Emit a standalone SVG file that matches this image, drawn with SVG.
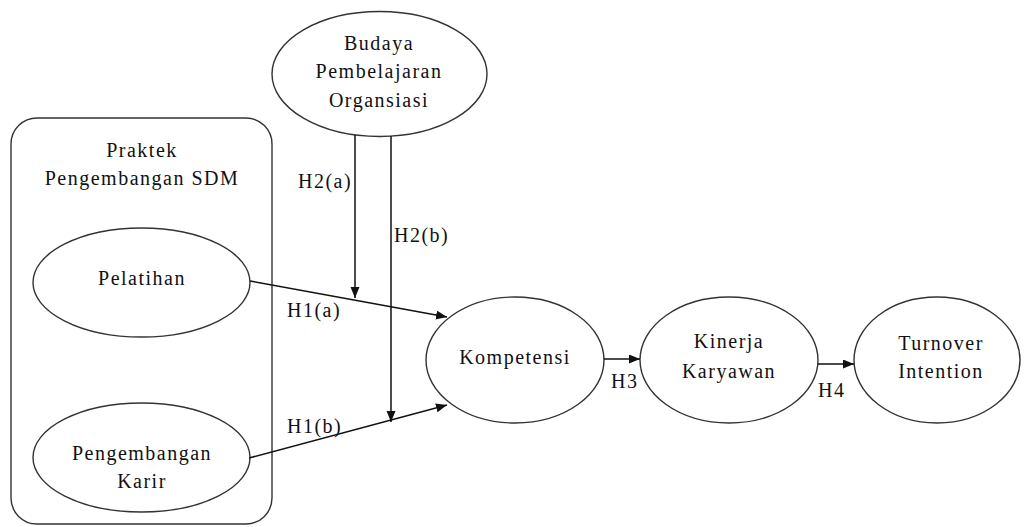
<svg xmlns="http://www.w3.org/2000/svg" width="1024" height="527" viewBox="0 0 1024 527">
<style>
.n{fill:#fff;stroke:#333;stroke-width:1.4}
.t{font-family:"Liberation Serif","Times New Roman",serif;font-size:20px;letter-spacing:1.5px;fill:#111;text-anchor:middle}
.l{font-family:"Liberation Serif","Times New Roman",serif;font-size:20px;letter-spacing:1.5px;fill:#111}
.c{stroke:#111;stroke-width:1.5;fill:none;marker-end:url(#ah)}
</style>
<defs>
<marker id="ah" markerUnits="userSpaceOnUse" markerWidth="12" markerHeight="10" refX="11" refY="4.5" orient="auto">
<path d="M0,0 L11,4.5 L0,9 z" fill="#111"/>
</marker>
</defs>
<rect width="1024" height="527" fill="#fff"/>
<g id="group-praktek">
<rect class="n" x="11" y="118" width="261" height="406" rx="26"/>
<text class="t" x="142" y="157">Praktek</text>
<text class="t" x="142" y="185">Pengembangan SDM</text>
</g>
<g id="node-budaya">
<ellipse class="n" cx="379.5" cy="74" rx="107.5" ry="62.5"/>
<text class="t" x="379" y="50">Budaya</text>
<text class="t" x="379" y="78">Pembelajaran</text>
<text class="t" x="379" y="107">Organsiasi</text>
</g>
<g id="node-pelatihan">
<ellipse class="n" cx="141.5" cy="282.5" rx="108.5" ry="54.5"/>
<text class="t" x="142" y="285">Pelatihan</text>
</g>
<g id="node-karir">
<ellipse class="n" cx="141.5" cy="457.5" rx="108.5" ry="54.5"/>
<text class="t" x="142" y="460">Pengembangan</text>
<text class="t" x="142" y="488">Karir</text>
</g>
<g id="node-kompetensi">
<ellipse class="n" cx="515" cy="360" rx="89" ry="63"/>
<text class="t" x="515" y="364">Kompetensi</text>
</g>
<g id="node-kinerja">
<ellipse class="n" cx="729" cy="360" rx="89" ry="63"/>
<text class="t" x="729" y="348">Kinerja</text>
<text class="t" x="729" y="378">Karyawan</text>
</g>
<g id="node-turnover">
<ellipse class="n" cx="937" cy="360" rx="83" ry="63"/>
<text class="t" x="941" y="350">Turnover</text>
<text class="t" x="941" y="378">Intention</text>
</g>
<g id="connectors">
<line class="c" x1="250" y1="281" x2="447" y2="317"/>
<line class="c" x1="249" y1="458" x2="447" y2="405"/>
<line class="c" x1="355" y1="135" x2="355" y2="298"/>
<line class="c" x1="391" y1="136" x2="391" y2="422"/>
<line class="c" x1="604" y1="359" x2="640" y2="359"/>
<line class="c" x1="818" y1="364" x2="854" y2="364"/>
<text class="l" x="298" y="188">H2(a)</text>
<text class="l" x="394" y="242">H2(b)</text>
<text class="l" x="287" y="317">H1(a)</text>
<text class="l" x="287" y="433">H1(b)</text>
<text class="l" x="611" y="388">H3</text>
<text class="l" x="818" y="397">H4</text>
</g>
</svg>
